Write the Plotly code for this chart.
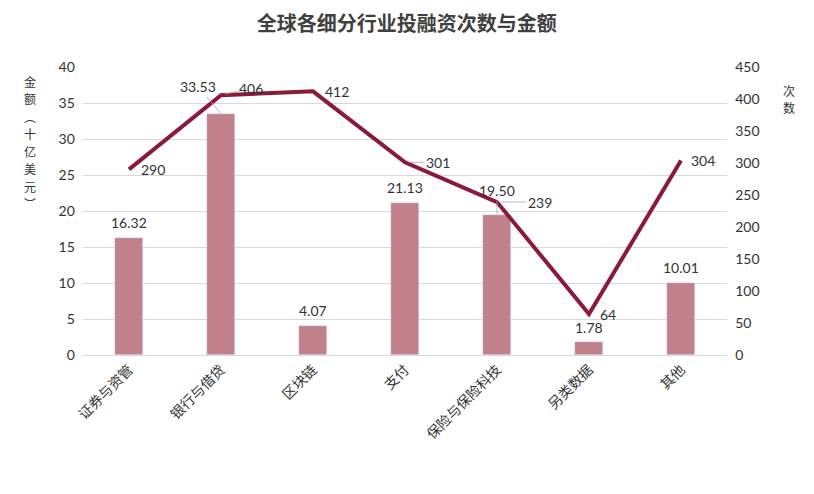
import plotly.graph_objects as go

categories = ["证券与资管", "银行与借贷", "区块链", "支付", "保险与保险科技", "另类数据", "其他"]
amounts = [16.32, 33.53, 4.07, 21.13, 19.50, 1.78, 10.01]
counts = [290, 406, 412, 301, 239, 64, 304]
amount_labels = ["16.32", "33.53", "4.07", "21.13", "19.50", "1.78", "10.01"]

bar_color = "#C0818A"
line_color = "#8B1A3A"
text_color = "#333333"
leader = "#a6a6a6"
cjk = "Noto Sans CJK SC"
num_font = "Lato"

fig = go.Figure()

fig.add_trace(go.Bar(
    x=categories, y=amounts, width=0.3, marker_color=bar_color,
    name="金额", yaxis="y"))

fig.add_trace(go.Scatter(
    x=categories, y=counts, mode="lines", line=dict(color=line_color, width=4),
    name="次数", yaxis="y2"))

num = dict(family=num_font, size=14, color=text_color)

# amount labels above the bars (two moved off with leader lines)
bar_offsets = {1: (-23, 27), 4: (0, 24)}
for i, (c, v, t) in enumerate(zip(categories, amounts, amount_labels)):
    if i in bar_offsets:
        dx, dy = bar_offsets[i]
        fig.add_annotation(x=c, y=v, yref="y", text=t, showarrow=True,
                           arrowhead=0, arrowwidth=0.8, arrowcolor=leader,
                           ax=dx, ay=-dy, standoff=0, font=num)
    else:
        fig.add_annotation(x=c, y=v, yref="y", text=t, showarrow=False,
                           yshift=15, font=num)

# count labels to the right of the line points
count_offsets = [(24, 0, False), (30, -7, True), (24, 0, False), (33, 0, True),
                 (43, 0, True), (19, 0, False), (22, 0, False)]
for c, v, (dx, dy, arrow) in zip(categories, counts, count_offsets):
    if arrow:
        fig.add_annotation(x=c, y=v, yref="y2", text=str(v), showarrow=True,
                           arrowhead=0, arrowwidth=0.8, arrowcolor=leader,
                           ax=dx, ay=dy, standoff=4, font=num)
    else:
        fig.add_annotation(x=c, y=v, yref="y2", text=str(v), showarrow=False,
                           xshift=dx, yshift=-dy, font=num)

fig.update_layout(
    width=814, height=494,
    margin=dict(l=75, r=95, t=59, b=147),
    paper_bgcolor="white", plot_bgcolor="white",
    showlegend=False, bargap=0,
    title=dict(text="<b>全球各细分行业投融资次数与金额</b>", x=0.49, y=0.968,
               xanchor="center", yanchor="middle",
               font=dict(family=cjk, size=20, color="#404040")),
    xaxis=dict(tickangle=-45, tickfont=dict(family=cjk, size=14, color=text_color),
               showline=True, linecolor="#d9d9d9", ticks=""),
    yaxis=dict(range=[0, 40], dtick=5, gridcolor="#d9d9d9", zeroline=False,
               tickfont=num, ticksuffix="  "),
    yaxis2=dict(range=[0, 450], dtick=50, overlaying="y", side="right",
                showgrid=False, zeroline=False,
                tickfont=num, tickprefix="  "),
)

# vertical axis titles, one character per annotation
for i, ch in enumerate("金额︵十亿美元︶"):
    fig.add_annotation(xref="paper", yref="paper", x=-0.082, y=0.951, yshift=-17.5 * i,
                       xanchor="center", yanchor="middle", text=ch, showarrow=False,
                       font=dict(family=cjk, size=12, color=text_color))
for i, ch in enumerate("次数"):
    fig.add_annotation(xref="paper", yref="paper", x=1.096, y=0.92, yshift=-17.5 * i,
                       xanchor="center", yanchor="middle", text=ch, showarrow=False,
                       font=dict(family=cjk, size=12, color=text_color))

fig.write_html("out.html")
